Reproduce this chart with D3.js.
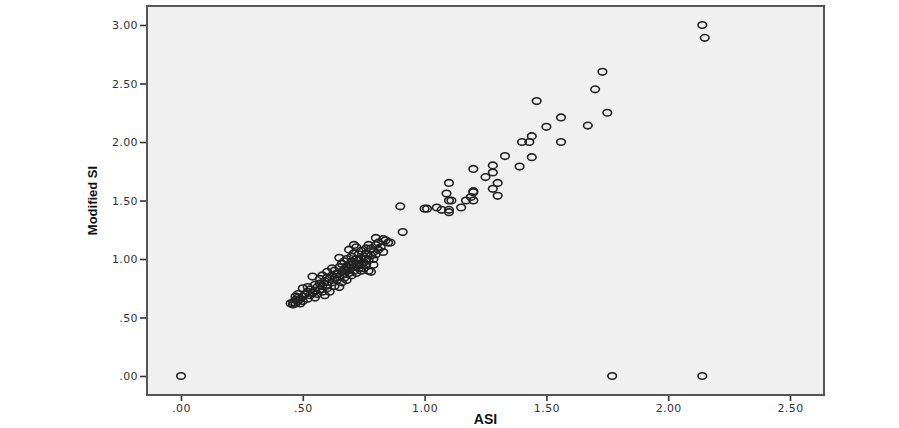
<!DOCTYPE html>
<html><head><meta charset="utf-8">
<script src="https://cdn.jsdelivr.net/npm/d3@7"></script>
<style>body{margin:0;background:#fff;}svg{display:block;}</style>
</head><body>
<script>
const xTicks = [0, 0.5, 1.0, 1.5, 2.0, 2.5];
const yTicks = [0, 0.5, 1.0, 1.5, 2.0, 2.5, 3.0];
const xLabel = "ASI";
const yLabel = "Modified SI";
const asi = [
0.00,1.77,2.14,
2.14,2.15,1.73,1.70,1.46,1.75,1.56,1.50,1.67,1.44,1.40,1.43,1.56,1.33,1.44,
1.28,1.39,1.20,1.28,1.25,1.10,1.30,1.09,1.20,1.28,1.20,1.30,1.19,1.10,1.11,1.17,1.20,
0.90,1.00,1.01,1.05,1.07,1.10,1.10,1.15,0.91,
0.46,0.47,0.46,0.47,0.48,0.48,0.49,0.49,0.50,0.47,0.50,0.51,0.52,0.52,0.53,0.53,0.54,0.55,0.55,0.54,
0.56,0.56,0.57,0.57,0.58,0.58,0.58,0.59,0.59,0.60,0.60,0.60,0.61,0.61,0.62,0.62,0.63,0.63,0.63,0.64,
0.64,0.65,0.65,0.65,0.66,0.66,0.66,0.67,0.67,0.67,0.68,0.68,0.68,0.69,0.69,0.69,0.70,0.70,0.70,0.70,
0.71,0.71,0.71,0.71,0.72,0.72,0.72,0.72,0.73,0.73,0.73,0.74,0.74,0.74,0.75,0.75,0.75,0.76,0.76,0.76,
0.77,0.77,0.78,0.78,0.78,0.79,0.79,0.80,0.80,0.80,0.81,0.81,0.82,0.83,0.83,0.84,0.85,0.86,0.79,0.77,
0.74,0.67,0.65,0.62,0.60,0.57,0.55,0.52,0.50,0.48,0.45,0.76,0.73,0.69,0.68
];
const msi = [
0.00,0.00,0.00,
3.00,2.89,2.60,2.45,2.35,2.25,2.21,2.13,2.14,2.05,2.00,2.00,2.00,1.88,1.87,
1.80,1.79,1.77,1.74,1.70,1.65,1.65,1.56,1.58,1.60,1.57,1.54,1.53,1.50,1.50,1.50,1.50,
1.45,1.43,1.43,1.44,1.42,1.42,1.40,1.44,1.23,
0.61,0.62,0.63,0.65,0.64,0.67,0.62,0.66,0.68,0.68,0.64,0.70,0.66,0.72,0.69,0.74,0.71,0.67,0.73,0.85,
0.76,0.70,0.74,0.79,0.72,0.77,0.86,0.69,0.81,0.75,0.78,0.89,0.83,0.72,0.80,0.86,0.77,0.84,0.90,0.82,
0.87,0.76,0.85,0.93,0.80,0.89,0.96,0.84,0.91,0.87,0.94,0.82,1.00,0.88,0.92,1.08,0.86,0.95,0.98,1.02,
0.90,0.93,1.05,1.12,0.88,0.96,1.00,1.10,0.92,0.99,1.04,0.90,0.95,1.07,0.97,1.02,0.92,0.95,1.05,1.09,
0.99,0.90,1.03,1.09,0.89,1.06,1.00,1.12,1.04,1.18,1.08,1.14,1.10,1.17,1.06,1.16,1.14,1.14,0.95,1.12,
1.00,0.98,1.01,0.92,0.84,0.83,0.78,0.76,0.75,0.70,0.62,1.00,0.96,0.95,0.90
];

const W = 899, H = 428;
const L = 147, R = 824, T = 6, B = 395;
const svg = d3.select("body").append("svg").attr("width", W).attr("height", H);

const x = d3.scaleLinear().domain([-0.1396, 2.6396]).range([L, R]);
const y = d3.scaleLinear().domain([-0.1624, 3.1624]).range([B, T]);

svg.append("rect").attr("x", L).attr("y", T).attr("width", R - L).attr("height", B - T)
  .attr("fill", "#f0f0f0");

const fmt = v => d3.format(".2f")(v).replace(/^0\./, ".");

const gx = svg.append("g").attr("transform", `translate(0,${B})`)
  .call(d3.axisBottom(x).tickValues(xTicks).tickFormat(fmt).tickSize(6).tickPadding(3));
const gy = svg.append("g").attr("transform", `translate(${L},0)`)
  .call(d3.axisLeft(y).tickValues(yTicks).tickFormat(fmt).tickSize(7).tickPadding(2));
[gx, gy].forEach(g => {
  g.select(".domain").remove();
  g.selectAll(".tick line").attr("stroke", "#333").attr("stroke-width", 1.6);
  g.selectAll(".tick text").attr("fill", "#333")
    .style("font-family", "DejaVu Sans, sans-serif").style("font-size", "11px")
    .style("letter-spacing", "0.4px");
});

svg.append("rect").attr("x", L).attr("y", T).attr("width", R - L).attr("height", B - T)
  .attr("fill", "none").attr("stroke", "#555").attr("stroke-width", 2);

const pts = asi.map((a, i) => ({a, m: msi[i]}));
svg.append("g").selectAll("ellipse").data(pts).join("ellipse")
  .attr("cx", d => x(d.a)).attr("cy", d => y(d.m))
  .attr("rx", 4.3).attr("ry", 3.3)
  .attr("fill", "none").attr("stroke", "#222").attr("stroke-width", 1.6);

svg.append("text").attr("x", (L + R) / 2).attr("y", 424)
  .attr("text-anchor", "middle")
  .style("font-family", "Liberation Sans, Arial, sans-serif").style("font-weight", "bold")
  .style("font-size", "14px").attr("fill", "#111").text(xLabel);

svg.append("text").attr("transform", `translate(97,${(T + B) / 2}) rotate(-90)`)
  .attr("text-anchor", "middle")
  .style("font-family", "Liberation Sans, Arial, sans-serif").style("font-weight", "bold")
  .style("font-size", "13px").attr("fill", "#111").text(yLabel);
</script>
</body></html>
